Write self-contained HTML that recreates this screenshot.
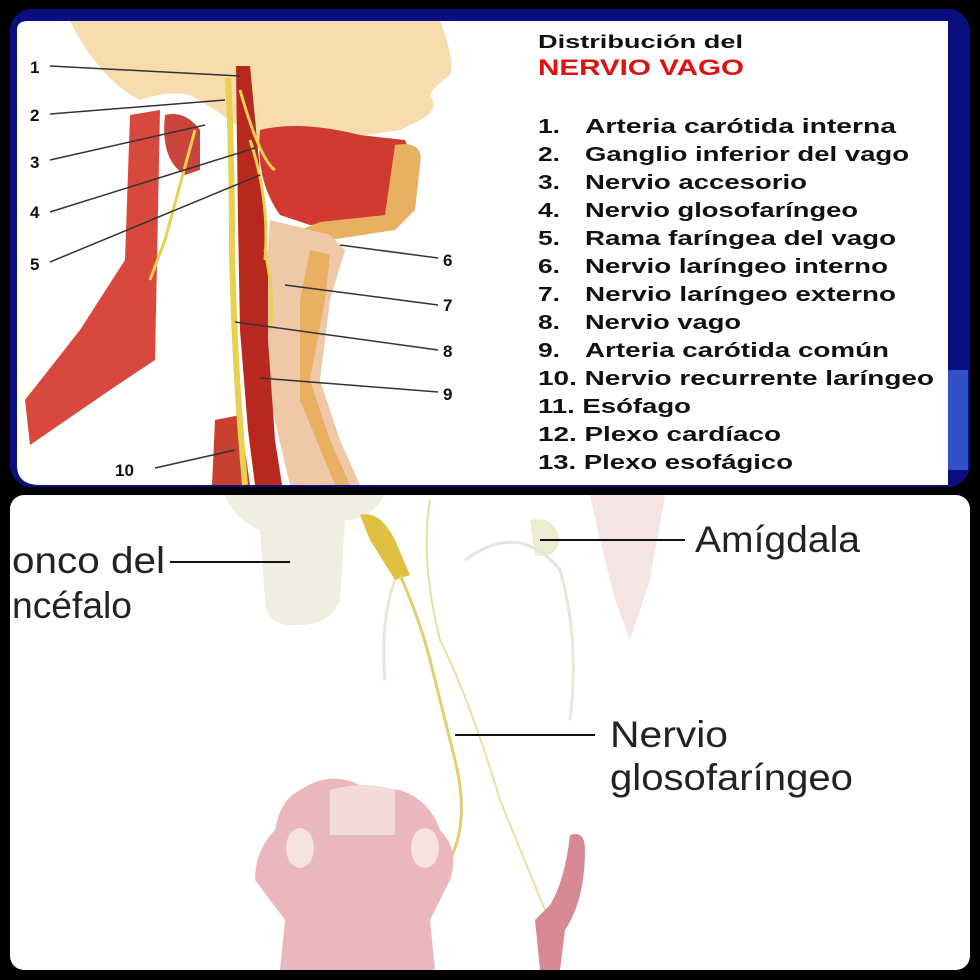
<!DOCTYPE html>
<html><head><meta charset="utf-8"><style>
html,body{margin:0;padding:0;background:#000;width:980px;height:980px;overflow:hidden}
svg{display:block}
</style></head><body>
<svg width="980" height="980" viewBox="0 0 980 980" xmlns="http://www.w3.org/2000/svg" font-family="Liberation Sans, sans-serif">
<rect width="980" height="980" fill="#000"/>
<!-- TOP PANEL -->
<rect x="10" y="9" width="960" height="478" rx="22" fill="#0a0f80"/>
<rect x="948" y="370" width="20" height="100" fill="#3050c8"/>
<path d="M17 30 Q17 21 28 21 L948 21 L948 485 L40 485 Q17 485 17 465 Z" fill="#fff"/>
<!-- face -->
<path d="M70 21 L440 21 Q455 60 450 75 Q435 85 430 95 Q440 110 420 120 L400 130 L330 140 Q300 130 270 150 L230 120 Q200 100 190 95 Q170 90 140 100 Q100 80 70 21 Z" fill="#f7dcae"/>
<!-- sternocleidomastoid -->
<path d="M130 115 L160 110 L155 360 L110 390 L30 445 L25 400 L80 330 L125 260 Z" fill="#d8483c"/>
<path d="M165 115 Q185 110 200 130 L200 170 L185 175 Q160 160 165 115 Z" fill="#c9443a"/>
<!-- tongue/jaw muscles -->
<path d="M260 130 Q300 120 360 135 L405 140 Q415 160 400 200 L380 220 L310 225 L280 215 Q255 180 260 130 Z" fill="#d03a30"/>
<path d="M395 145 Q425 140 420 165 L415 210 L395 230 L330 240 L300 230 L320 222 L385 215 Z" fill="#e8b060"/>
<!-- larynx/trachea -->
<path d="M270 220 L330 235 L345 250 L330 300 L320 380 L340 440 L360 485 L290 485 L270 400 L265 300 Z" fill="#efc8a8"/>
<path d="M310 250 L330 255 L325 300 L310 380 L330 440 L350 485 L335 485 L300 400 L300 300 Z" fill="#e8b060"/>
<!-- carotid artery -->
<path d="M236 66 L250 66 L258 150 L268 260 L268 340 L275 440 L282 485 L255 485 L248 430 L240 330 L238 220 Z" fill="#b8281e"/>
<path d="M215 420 L240 415 L250 485 L212 485 Z" fill="#c84030"/>
<!-- vagus nerve -->
<path d="M228 78 Q232 150 232 250 Q234 360 245 485" stroke="#e8d050" stroke-width="6" fill="none"/>
<path d="M240 90 Q260 160 275 170 M250 140 Q270 200 265 260 M265 250 Q275 300 270 330 M195 130 L165 240 L150 280" stroke="#e8d050" stroke-width="3" fill="none"/>
<!-- leader lines -->
<g stroke="#333" stroke-width="1.5">
<line x1="50" y1="66" x2="240" y2="76"/>
<line x1="50" y1="114" x2="225" y2="100"/>
<line x1="50" y1="160" x2="205" y2="125"/>
<line x1="50" y1="212" x2="255" y2="148"/>
<line x1="50" y1="262" x2="260" y2="175"/>
<line x1="340" y1="245" x2="438" y2="258"/>
<line x1="285" y1="285" x2="438" y2="305"/>
<line x1="235" y1="322" x2="438" y2="350"/>
<line x1="260" y1="378" x2="438" y2="392"/>
<line x1="155" y1="468" x2="235" y2="450"/>
</g>
<g font-weight="bold" font-size="17" fill="#111">
<text x="30" y="73">1</text><text x="30" y="121">2</text><text x="30" y="168">3</text><text x="30" y="218">4</text><text x="30" y="270">5</text>
<text x="443" y="266">6</text><text x="443" y="311">7</text><text x="443" y="357">8</text><text x="443" y="400">9</text>
<text x="115" y="476">10</text>
</g>
<text x="538" y="48" font-size="18" font-weight="bold" fill="#111" textLength="205" lengthAdjust="spacingAndGlyphs">Distribución del</text>
<text x="538" y="75" font-size="22" font-weight="bold" fill="#e01010" textLength="206" lengthAdjust="spacingAndGlyphs">NERVIO VAGO</text>
<g font-size="20" font-weight="bold" fill="#111">
<text x="538" y="133" textLength="22" lengthAdjust="spacingAndGlyphs">1.</text><text x="585" y="133" textLength="311" lengthAdjust="spacingAndGlyphs">Arteria carótida interna</text>
<text x="538" y="161" textLength="22" lengthAdjust="spacingAndGlyphs">2.</text><text x="585" y="161" textLength="324" lengthAdjust="spacingAndGlyphs">Ganglio inferior del vago</text>
<text x="538" y="189" textLength="22" lengthAdjust="spacingAndGlyphs">3.</text><text x="585" y="189" textLength="222" lengthAdjust="spacingAndGlyphs">Nervio accesorio</text>
<text x="538" y="217" textLength="22" lengthAdjust="spacingAndGlyphs">4.</text><text x="585" y="217" textLength="273" lengthAdjust="spacingAndGlyphs">Nervio glosofaríngeo</text>
<text x="538" y="245" textLength="22" lengthAdjust="spacingAndGlyphs">5.</text><text x="585" y="245" textLength="311" lengthAdjust="spacingAndGlyphs">Rama faríngea del vago</text>
<text x="538" y="273" textLength="22" lengthAdjust="spacingAndGlyphs">6.</text><text x="585" y="273" textLength="303" lengthAdjust="spacingAndGlyphs">Nervio laríngeo interno</text>
<text x="538" y="301" textLength="22" lengthAdjust="spacingAndGlyphs">7.</text><text x="585" y="301" textLength="311" lengthAdjust="spacingAndGlyphs">Nervio laríngeo externo</text>
<text x="538" y="329" textLength="22" lengthAdjust="spacingAndGlyphs">8.</text><text x="585" y="329" textLength="156" lengthAdjust="spacingAndGlyphs">Nervio vago</text>
<text x="538" y="357" textLength="22" lengthAdjust="spacingAndGlyphs">9.</text><text x="585" y="357" textLength="304" lengthAdjust="spacingAndGlyphs">Arteria carótida común</text>
<text x="538" y="385" textLength="396" lengthAdjust="spacingAndGlyphs">10. Nervio recurrente laríngeo</text>
<text x="538" y="413" textLength="153" lengthAdjust="spacingAndGlyphs">11. Esófago</text>
<text x="538" y="441" textLength="243" lengthAdjust="spacingAndGlyphs">12. Plexo cardíaco</text>
<text x="538" y="469" textLength="255" lengthAdjust="spacingAndGlyphs">13. Plexo esofágico</text>
</g>
<!-- BOTTOM PANEL -->
<rect x="10" y="495" width="960" height="475" rx="14" fill="#fff"/>
<!-- brainstem -->
<path d="M225 495 L385 495 Q370 520 345 520 L340 600 Q330 625 300 625 L285 625 Q265 620 265 600 L260 530 Q235 520 225 495 Z" fill="#efeee0"/>
<path d="M360 515 Q380 510 395 540 L410 575 L395 580 L370 540 Z" fill="#e0c040"/>
<!-- right tissue -->
<path d="M590 495 L665 495 L650 580 L630 640 L615 600 L600 540 Z" fill="#f4e4e4"/>
<path d="M530 520 Q555 515 560 540 Q555 560 535 555 Z" fill="#eeeccf"/>
<!-- nerves -->
<path d="M400 575 Q420 620 430 660 Q445 720 455 760 Q470 820 450 860" stroke="#e0cf70" stroke-width="3" fill="none"/>
<path d="M430 500 Q420 560 440 640 Q470 700 500 800 L545 910" stroke="#e8e0a0" stroke-width="2" fill="none"/>
<path d="M465 560 Q520 520 560 570 Q580 640 570 720 M395 580 Q380 620 385 680" stroke="#e6e6da" stroke-width="3" fill="none"/>
<!-- tongue -->
<path d="M300 790 Q330 770 360 785 L400 790 Q430 800 440 830 Q460 850 450 880 L430 920 L435 970 L280 970 L285 920 L255 880 Q255 850 275 830 Q280 800 300 790 Z" fill="#eab8bc"/>
<ellipse cx="300" cy="848" rx="14" ry="20" fill="#f6e2e0"/>
<ellipse cx="425" cy="848" rx="14" ry="20" fill="#f6e2e0"/>
<path d="M330 790 Q365 780 395 790 L395 835 L330 835 Z" fill="#f3dcd6"/>
<!-- esophagus -->
<path d="M570 835 Q585 830 585 850 Q585 900 565 930 L560 970 L540 970 L535 920 L550 905 Q565 880 570 835 Z" fill="#d88a94"/>
<!-- leader lines -->
<g stroke="#111" stroke-width="2">
<line x1="170" y1="562" x2="290" y2="562"/>
<line x1="540" y1="540" x2="685" y2="540"/>
<line x1="455" y1="735" x2="595" y2="735"/>
</g>
<g font-size="37" fill="#222">
<text x="12" y="573" textLength="153" lengthAdjust="spacingAndGlyphs">onco del</text>
<text x="12" y="618" textLength="120" lengthAdjust="spacingAndGlyphs">ncéfalo</text>
<text x="695" y="552" textLength="165" lengthAdjust="spacingAndGlyphs">Amígdala</text>
<text x="610" y="747" textLength="118" lengthAdjust="spacingAndGlyphs">Nervio</text>
<text x="610" y="790" textLength="243" lengthAdjust="spacingAndGlyphs">glosofaríngeo</text>
</g>
</svg>
</body></html>
